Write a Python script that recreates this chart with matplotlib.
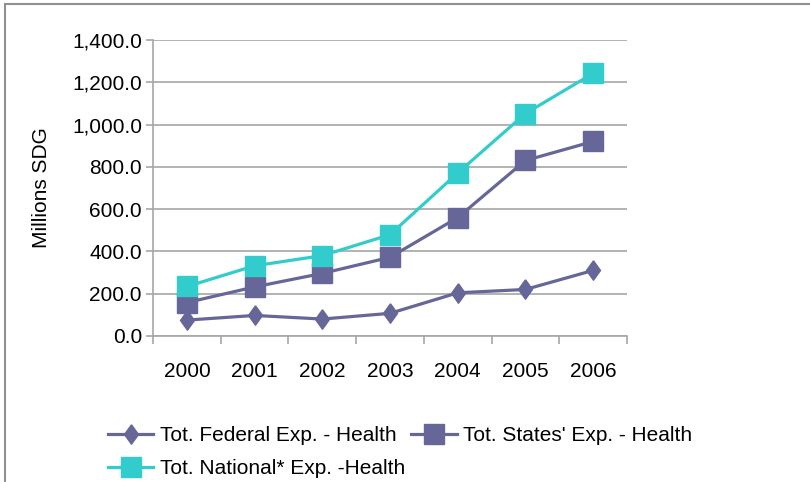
import matplotlib
matplotlib.use("Agg")
import matplotlib.pyplot as plt
from matplotlib.patches import Rectangle
from matplotlib.ticker import FuncFormatter

years = ["2000", "2001", "2002", "2003", "2004", "2005", "2006"]
federal = [75, 97, 80, 107, 204, 220, 310]
states = [158, 232, 296, 372, 560, 830, 920]
national = [234, 332, 380, 479, 771, 1052, 1242]

plt.rcParams['font.family'] = ['Liberation Sans', 'DejaVu Sans']

purple = '#666699'
cyan = '#33CCCC'
grid = '#A6A6A6'

fig = plt.figure(figsize=(8.1, 4.82), dpi=100)
ax = fig.add_axes([0.189, 0.303, 0.585, 0.614])

# chart border (only top/left visible in the crop)
fig.patches.append(Rectangle((0.006, -0.1), 1.1, 1.092, transform=fig.transFigure,
                             fill=False, edgecolor='#909090', linewidth=1.5))

x = list(range(len(years)))
diamond = [(0, 1), (0.72, 0), (0, -1), (-0.72, 0), (0, 1)]
l1, = ax.plot(x, federal, color=purple, lw=2.3, marker=diamond, markersize=14,
              label='Tot. Federal Exp. - Health', zorder=3)
l2, = ax.plot(x, states, color=purple, lw=2.3, marker='s', markersize=15,
              label="Tot. States' Exp. - Health", zorder=3)
l3, = ax.plot(x, national, color=cyan, lw=2.3, marker='s', markersize=15,
              label='Tot. National* Exp. -Health', zorder=4)

ax.set_xlim(-0.5, 6.5)
ax.set_ylim(0, 1400)
ax.set_yticks(range(0, 1401, 200))
ax.yaxis.set_major_formatter(FuncFormatter(lambda v, p: f"{v:,.1f}"))
ax.set_xticks([i - 0.5 for i in range(8)])
ax.set_xticklabels([])
ax.set_xticks(x, minor=True)
ax.set_xticklabels(years, minor=True)
ax.tick_params(axis='x', which='minor', length=0, pad=19, labelsize=15)
ax.tick_params(axis='x', which='major', length=6, color=grid, width=1.2)
ax.tick_params(axis='y', length=5, color=grid, width=1.2, labelsize=15, pad=3)

ax.grid(axis='y', color=grid, lw=1.2)
ax.set_axisbelow(True)
for s in ['top', 'right']:
    ax.spines[s].set_visible(False)
for s in ['left', 'bottom']:
    ax.spines[s].set_color(grid)
    ax.spines[s].set_linewidth(1.2)

ax.set_ylabel('Millions SDG', fontsize=15, labelpad=15)

fig.legend(handles=[l1, l3, l2], ncol=2, frameon=False, fontsize=15,
           loc='upper left', bbox_to_anchor=(0.12, 0.137), handlelength=2.2,
           handletextpad=0.3, columnspacing=0.3, labelspacing=0.67, borderpad=0)

fig.savefig('out.png', dpi=100)
